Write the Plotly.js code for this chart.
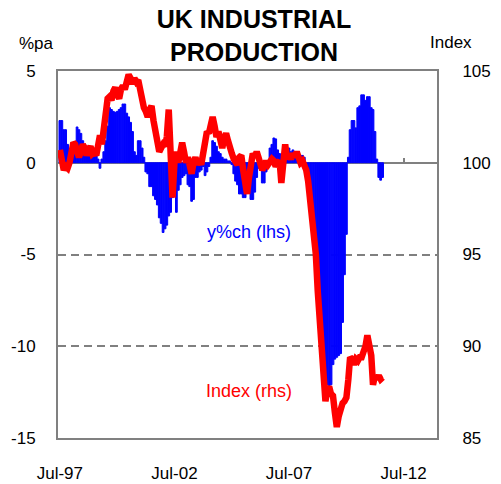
<!DOCTYPE html>
<html>
<head>
<meta charset="utf-8">
<script src="https://cdn.plot.ly/plotly-3.0.1.min.js"></script>
<style>
  html, body { margin: 0; padding: 0; background: #ffffff; }
  #chart { width: 501px; height: 484px; }
</style>
</head>
<body>
<div id="chart"></div>
<script>
// ---- Data (monthly, starting Jul-1997) ----
var startYear = 1997;
var startMonth = 7;

// Year-on-year % change (left axis, %pa)
var yoyChange = [
  2.3, 2.3, 1.8, 1.8, 1.0, 0.7, 0.5, 0.8, 1.0, 1.95,
  1.8, 1.6, 1.2, 1.0, 0.9, 0.85, 0.8, 0.7, 0.6, 0.4,
  0.2, -0.3, 0.2, 0.6, 1.2, 2.0, 3.0, 2.9, 2.8, 2.75,
  2.8, 2.9, 3.0, 3.2, 3.2, 2.7, 2.5, 2.2, 1.7, 0.6,
  0.4, 1.2, 1.2, 0.8, 0.3, -0.5, -0.6, -1.3, -1.3, -1.8,
  -2.0, -2.3, -3.0, -3.3, -3.8, -3.6, -3.4, -2.9, -2.7, -1.9,
  -1.8, -2.7, -1.5, -1.2, -0.8, -0.7, -0.6, -1.2, -1.3, -2.1,
  -2.0, -0.8, -0.8, -0.5, -0.4, -0.2, -0.7, -0.5, -0.2, 0.3,
  1.2, 1.1, 0.9, 0.6, 0.5, 0.3, 0.2, 0.2, 0.1, 0.1,
  -0.1, -0.6, -1.0, -1.2, -1.7, -1.7, -1.9, -1.9, -1.4, -1.5,
  -2.0, -2.0, -1.6, -0.8, -0.3, -0.4, -1.1, -1.1, -0.5, -0.3,
  0.8, 1.0, 1.35, 1.3, 0.7, 0.5, 0.3, 0.5, 0.4, 0.6,
  0.8, 0.6, 0.7, 0.5, 0.6, 0.5, 0.4, 0.4, 0.3, -0.4,
  -1.2, -2.2, -3.3, -3.8, -5.2, -7.0, -8.8, -10.3, -11.4, -12.0,
  -12.1, -12.2, -12.1, -11.0, -10.7, -10.6, -10.5, -10.4, -8.7, -6.1,
  -3.9, 0.3, 1.8, 2.3, 2.3, 1.9, 3.0, 3.1, 3.7, 3.7,
  3.4, 3.6, 3.6, 3.0, 2.9, 1.7, 0.2, -0.8, -0.95, -0.8
];

// Production index (right axis)
var prodIndex = [
  100.7, 99.8, 99.6, 99.8, 99.7, 100.0, 100.6, 101.1, 101.0, 100.7,
  100.3, 100.6, 101.0, 100.8, 100.4, 100.7, 100.9, 100.5, 100.6, 100.4,
  101.2, 101.5, 101.0, 101.9, 103.1, 103.5, 103.6, 103.4, 103.9, 104.1,
  103.7, 103.5, 104.0, 104.2, 104.0, 104.4, 104.8, 104.6, 104.3, 104.6,
  104.4, 104.5, 103.9, 103.5, 103.0, 102.8, 102.5, 102.9, 103.1, 102.3,
  101.6, 100.9, 100.6, 100.8, 101.0, 100.9, 101.4, 102.9, 100.5, 98.1,
  100.0, 100.6, 100.0, 100.4, 101.1, 100.6, 100.0, 100.3, 99.9, 99.4,
  100.0, 100.3, 99.9, 100.1, 99.9, 100.6, 101.4, 101.7, 101.6, 102.2,
  102.5, 102.0, 101.4, 101.7, 101.1, 100.8, 101.3, 101.6, 101.2, 100.7,
  100.5, 100.2, 100.0, 99.9, 100.3, 100.4, 99.6, 98.8, 98.3, 99.2,
  100.2, 100.5, 100.3, 100.6, 100.3, 99.8, 99.6, 99.8, 100.1, 99.9,
  100.0, 100.2, 100.1, 99.8, 100.0, 100.1, 98.9, 100.2, 101.0, 100.2,
  100.4, 100.2, 100.5, 100.3, 100.6, 100.3, 100.0, 100.1, 99.9, 99.6,
  99.0, 98.0, 96.9, 96.4, 95.0, 93.0, 91.2, 89.5, 88.2, 87.0,
  87.6, 87.8, 87.4, 87.3, 86.4, 85.6, 86.2, 86.6, 86.9, 87.0,
  87.2, 88.2, 89.4, 89.3, 89.0, 89.3, 89.2, 89.4, 89.4, 89.7,
  90.0, 90.6, 90.2, 89.5, 87.9, 88.4, 88.2, 88.4, 88.2, 88.3
];

// Tick labels
var xTickVals = ['1997-07-01', '2002-07-01', '2007-07-01', '2012-07-01'];
var xTickText = ['Jul-97', 'Jul-02', 'Jul-07', 'Jul-12'];
var leftTicks = [-15, -10, -5, 0, 5];
var leftTickText = ['-15', '-10', '-5', '0', '5'];
var rightTicks = [85, 90, 95, 100, 105];
var rightTickText = ['85', '90', '95', '100', '105'];

// Month dates for the series
function pad(n) { return (n < 10 ? '0' : '') + n; }
var months = [];
for (var i = 0; i < prodIndex.length; i++) {
  var t = startMonth - 1 + i;
  var yr = startYear + Math.floor(t / 12);
  var mo = (t % 12) + 1;
  months.push(yr + '-' + pad(mo) + '-01');
}

var FONT = 'Arial, "Liberation Sans", Helvetica, sans-serif';
var GRAY = '#808080';

var traces = [
  {
    type: 'bar',
    name: 'y%ch (lhs)',
    x: months,
    y: yoyChange,
    xaxis: 'x',
    yaxis: 'y',
    marker: { color: '#0000FF', line: { color: '#0000FF', width: 1 } },
    hoverinfo: 'skip'
  },
  {
    type: 'scatter',
    mode: 'lines',
    name: 'Index (rhs)',
    x: months,
    y: prodIndex,
    xaxis: 'x',
    yaxis: 'y2',
    line: { color: '#FF0000', width: 6.5 },
    hoverinfo: 'skip'
  },
  {
    type: 'scatter',
    mode: 'lines',
    x: [],
    y: [],
    xaxis: 'x2',
    yaxis: 'y',
    showlegend: false,
    hoverinfo: 'skip'
  }
];

var xRange = ['1997-06-01', '2013-12-15'];

var layout = {
  width: 501,
  height: 484,
  margin: { l: 58, r: 64, t: 71, b: 46, pad: 0 },
  paper_bgcolor: '#ffffff',
  plot_bgcolor: '#ffffff',
  showlegend: false,
  bargap: 0,
  font: { family: FONT, size: 17, color: '#000000' },
  title: {
    text: '<b>UK INDUSTRIAL<br>PRODUCTION</b>',
    font: { family: FONT, size: 25, color: '#000000' },
    x: 254 / 501,
    xanchor: 'center',
    xref: 'container',
    yref: 'container',
    y: 1 - 28 / 484,
    yanchor: 'top'
  },
  xaxis: {
    type: 'date',
    range: xRange,
    tickvals: xTickVals,
    ticktext: xTickText,
    ticks: '',
    showgrid: false,
    zeroline: false,
    showline: true,
    mirror: true,
    linecolor: GRAY,
    linewidth: 2,
    ticklabelstandoff: 19,
    tickfont: { family: FONT, size: 17, color: '#000000' },
    fixedrange: true
  },
  xaxis2: {
    type: 'date',
    range: xRange,
    overlaying: 'x',
    anchor: 'free',
    position: 0.75,
    tickvals: xTickVals,
    ticks: 'inside',
    ticklen: 5,
    tickwidth: 2,
    tickcolor: GRAY,
    showticklabels: false,
    showgrid: false,
    zeroline: false,
    showline: false,
    layer: 'below traces',
    fixedrange: true
  },
  yaxis: {
    range: [-15, 5],
    tickvals: leftTicks,
    ticktext: leftTickText,
    ticks: '',
    showgrid: true,
    gridcolor: GRAY,
    gridwidth: 2,
    griddash: '8px,5px',
    zeroline: true,
    zerolinecolor: GRAY,
    zerolinewidth: 2,
    showline: true,
    linecolor: GRAY,
    linewidth: 2,
    ticklabelstandoff: 17,
    tickfont: { family: FONT, size: 17, color: '#000000' },
    fixedrange: true
  },
  yaxis2: {
    range: [85, 105],
    overlaying: 'y',
    side: 'right',
    tickvals: rightTicks,
    ticktext: rightTickText,
    ticks: '',
    showgrid: false,
    zeroline: false,
    showline: true,
    linecolor: GRAY,
    linewidth: 2,
    ticklabelstandoff: 20,
    tickfont: { family: FONT, size: 17, color: '#000000' },
    fixedrange: true
  },
  annotations: [
    {
      text: '%pa', xref: 'paper', yref: 'paper',
      x: (36 - 58) / 379, y: (438 - 44) / 367,
      xanchor: 'center', yanchor: 'middle', showarrow: false,
      font: { family: FONT, size: 17, color: '#000000' }
    },
    {
      text: 'Index', xref: 'paper', yref: 'paper',
      x: (451 - 58) / 379, y: (438 - 42) / 367,
      xanchor: 'center', yanchor: 'middle', showarrow: false,
      font: { family: FONT, size: 17, color: '#000000' }
    },
    {
      text: 'y%ch (lhs)', xref: 'paper', yref: 'paper',
      x: (249 - 58) / 379, y: (438 - 232) / 367,
      xanchor: 'center', yanchor: 'middle', showarrow: false,
      font: { family: FONT, size: 18, color: '#0000FF' }
    },
    {
      text: 'Index (rhs)', xref: 'paper', yref: 'paper',
      x: (249 - 58) / 379, y: (438 - 391) / 367,
      xanchor: 'center', yanchor: 'middle', showarrow: false,
      font: { family: FONT, size: 18, color: '#FF0000' }
    }
  ]
};

Plotly.newPlot('chart', traces, layout, { staticPlot: true, displayModeBar: false });
</script>
</body>
</html>
